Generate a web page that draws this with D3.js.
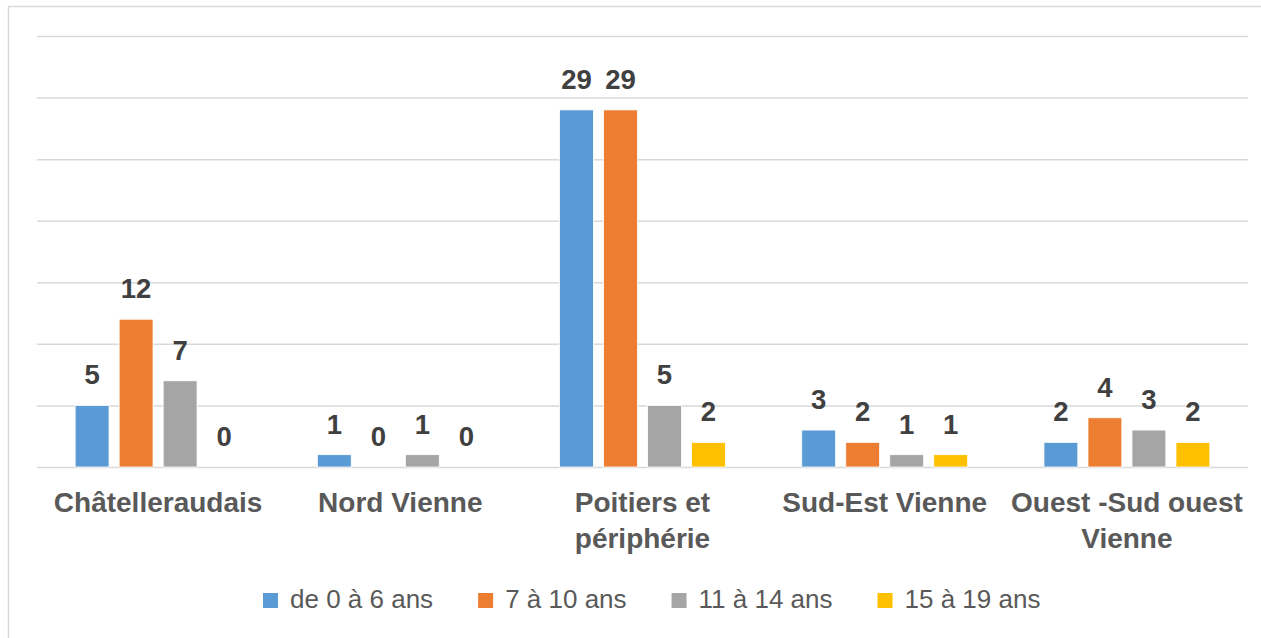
<!DOCTYPE html>
<html>
<head>
<meta charset="utf-8">
<script src="https://cdn.jsdelivr.net/npm/d3@7"></script>
<style>
  html, body { margin: 0; padding: 0; background: #fff; }
  svg { display: block; }
</style>
</head>
<body>
<svg id="chart" width="1261" height="638"></svg>
<script>
const categories = ["Châtelleraudais", "Nord Vienne", "Poitiers et périphérie", "Sud-Est Vienne", "Ouest -Sud ouest Vienne"];
const seriesNames = ["de 0 à 6 ans", "7 à 10 ans", "11 à 14 ans", "15 à 19 ans"];
const s0_6 = [5, 1, 29, 3, 2];
const s7_10 = [12, 0, 29, 2, 4];
const s11_14 = [7, 1, 5, 1, 3];
const s15_19 = [0, 0, 2, 1, 2];
const yTicks = [0, 5, 10, 15, 20, 25, 30, 35];
const colors = ["#5b9bd5", "#ed7d31", "#a5a5a5", "#ffc000"];

(function () {
const seriesValues = [s0_6, s7_10, s11_14, s15_19];
const svg = d3.select("#chart");

// outer frame
svg.append("rect")
  .attr("x", 8.5).attr("y", 6.5)
  .attr("width", 1270).attr("height", 650)
  .attr("fill", "#fff").attr("stroke", "#d9d9d9").attr("stroke-width", 1.5);

const mLeft = 37, mRight = 1248, mTop = 36, mBottom = 467;

const x0 = d3.scaleBand().domain(categories).range([mLeft, mRight])
  .paddingInner(0.315).paddingOuter(0.1575);
const x1 = d3.scaleBand().domain(seriesNames).range([0, x0.bandwidth()])
  .paddingInner(0.23).paddingOuter(0);
const y = d3.scaleLinear().domain([0, 35]).range([mBottom, mTop]);

// gridlines
const yAxis = d3.axisLeft(y).tickValues(yTicks).tickSize(-(mRight - mLeft)).tickFormat("");
const gAxis = svg.append("g").attr("transform", `translate(${mLeft},0)`).call(yAxis);
gAxis.select(".domain").remove();
gAxis.selectAll(".tick line").attr("stroke", "#d9d9d9").attr("stroke-width", 1.5);

// bars
const rows = [];
categories.forEach((c, i) => {
  seriesNames.forEach((s, j) => rows.push({ cat: c, ser: s, j, v: seriesValues[j][i] }));
});

svg.append("g").selectAll("rect").data(rows).join("rect")
  .attr("x", d => x0(d.cat) + x1(d.ser))
  .attr("y", d => y(d.v))
  .attr("width", x1.bandwidth())
  .attr("height", d => y(0) - y(d.v))
  .attr("fill", d => colors[d.j])
  .attr("stroke", "#fff").attr("stroke-width", 0.8);

// data labels
svg.append("g").selectAll("text").data(rows).join("text")
  .attr("x", d => x0(d.cat) + x1(d.ser) + x1.bandwidth() / 2)
  .attr("y", d => y(d.v) - 21)
  .attr("text-anchor", "middle")
  .attr("font-family", "Liberation Sans, Arial, sans-serif")
  .attr("font-weight", "bold")
  .attr("font-size", 27.5)
  .attr("fill", "#404040")
  .text(d => d.v);

// category labels with wrapping
const catG = svg.append("g");
const maxW = x0.step() * 0.97;
categories.forEach(c => {
  const cx = x0(c) + x0.bandwidth() / 2;
  const t = catG.append("text")
    .attr("x", cx)
    .attr("y", 512)
    .attr("text-anchor", "middle")
    .attr("font-family", "Liberation Sans, Arial, sans-serif")
    .attr("font-weight", "bold")
    .attr("font-size", 28)
    .attr("fill", "#595959");
  const words = c.split(" ");
  let line = [];
  let tspan = t.append("tspan").attr("x", cx).attr("dy", 0);
  words.forEach(w => {
    line.push(w);
    tspan.text(line.join(" "));
    if (tspan.node().getComputedTextLength() > maxW && line.length > 1) {
      line.pop();
      tspan.text(line.join(" "));
      line = [w];
      tspan = t.append("tspan").attr("x", cx).attr("dy", 36).text(w);
    }
  });
});

// legend
const legendG = svg.append("g");
let lx = 263;
seriesNames.forEach((s, j) => {
  legendG.append("rect")
    .attr("x", lx).attr("y", 593).attr("width", 15).attr("height", 15)
    .attr("fill", colors[j]);
  const t = legendG.append("text")
    .attr("x", lx + 27)
    .attr("y", 608)
    .attr("font-family", "Liberation Sans, Arial, sans-serif")
    .attr("font-size", 26)
    .attr("fill", "#595959")
    .text(s);
  const w = t.node().getComputedTextLength();
  lx = lx + 27 + w + 45;
});
})();
</script>
</body>
</html>
